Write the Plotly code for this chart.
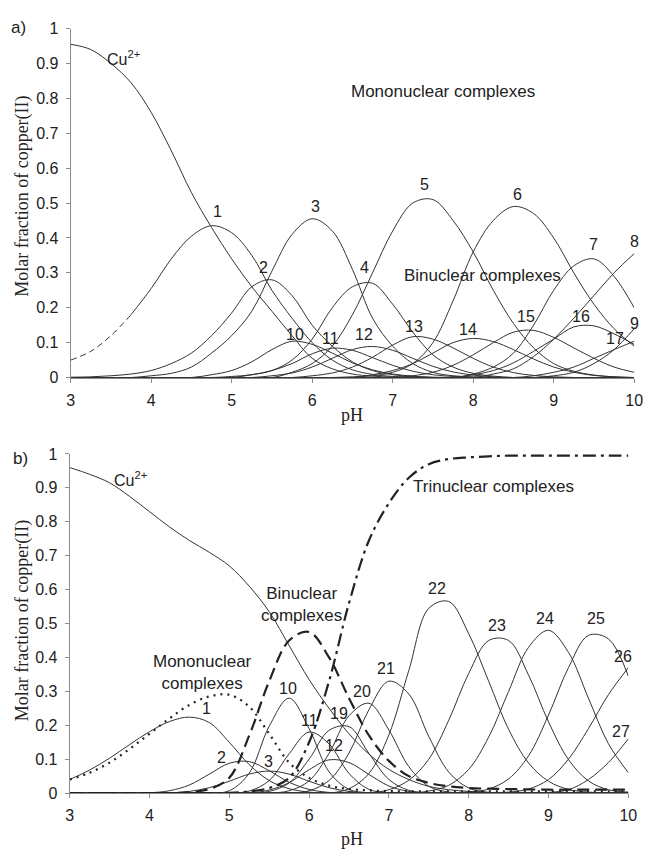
import plotly.graph_objects as go

N = 29
PH = [3.0, 3.25, 3.5, 3.75, 4.0, 4.25, 4.5, 4.75, 5.0, 5.25, 5.5, 5.75, 6.0, 6.25, 6.5,
      6.75, 7.0, 7.25, 7.5, 7.75, 8.0, 8.25, 8.5, 8.75, 9.0, 9.25, 9.5, 9.75, 10.0]


def pad(v):
    return v + [0.0] * (N - len(v))


# ---------------- panel a ----------------
A_CU = pad([0.955, 0.94, 0.9, 0.845, 0.76, 0.65, 0.53, 0.43, 0.34, 0.26, 0.19, 0.12, 0.055, 0.025, 0.01, 0.004, 0.001])
A1 = pad([0.05, 0.075, 0.12, 0.18, 0.255, 0.34, 0.405, 0.435, 0.415, 0.35, 0.25, 0.17, 0.1, 0.05, 0.022, 0.009, 0.003, 0.001])
A2 = pad([0.001, 0.002, 0.005, 0.01, 0.02, 0.04, 0.07, 0.12, 0.185, 0.26, 0.28, 0.235, 0.15, 0.09, 0.045, 0.02, 0.008, 0.003, 0.001])
A3 = pad([0, 0, 0, 0, 0.005, 0.012, 0.03, 0.07, 0.12, 0.19, 0.305, 0.41, 0.455, 0.42, 0.31, 0.17, 0.09, 0.04, 0.015, 0.005, 0.002])
A4 = pad([0] * 9 + [0.008, 0.02, 0.05, 0.11, 0.2, 0.26, 0.27, 0.21, 0.13, 0.065, 0.03, 0.012, 0.004])
A5 = pad([0] * 11 + [0.015, 0.04, 0.09, 0.18, 0.3, 0.42, 0.5, 0.51, 0.45, 0.36, 0.25, 0.155, 0.085, 0.04, 0.018, 0.007, 0.002])
A6 = pad([0] * 14 + [0.002, 0.005, 0.015, 0.04, 0.1, 0.22, 0.36, 0.45, 0.49, 0.47, 0.4, 0.3, 0.21, 0.14, 0.09])
A7 = pad([0] * 20 + [0.01, 0.03, 0.07, 0.15, 0.25, 0.32, 0.34, 0.29, 0.2])
A8 = pad([0] * 21 + [0.01, 0.025, 0.06, 0.11, 0.17, 0.235, 0.3, 0.355])
A9 = pad([0] * 24 + [0.005, 0.015, 0.04, 0.08, 0.14])
A10 = pad([0] * 7 + [0.008, 0.02, 0.045, 0.08, 0.104, 0.095, 0.07, 0.042, 0.022, 0.01, 0.004])
A11 = pad([0] * 8 + [0.003, 0.008, 0.02, 0.04, 0.068, 0.084, 0.078, 0.057, 0.035, 0.018, 0.008, 0.003])
A12 = pad([0] * 10 + [0.005, 0.013, 0.03, 0.055, 0.08, 0.089, 0.078, 0.055, 0.032, 0.016, 0.007, 0.002])
A13 = pad([0] * 12 + [0.005, 0.013, 0.03, 0.058, 0.093, 0.117, 0.11, 0.085, 0.055, 0.03, 0.014, 0.006, 0.002])
A14 = pad([0] * 15 + [0.008, 0.02, 0.04, 0.07, 0.1, 0.112, 0.103, 0.08, 0.053, 0.03, 0.015, 0.006, 0.002])
A15 = pad([0] * 17 + [0.005, 0.015, 0.035, 0.065, 0.1, 0.13, 0.135, 0.115, 0.085, 0.055, 0.03, 0.015])
A16 = pad([0] * 20 + [0.008, 0.02, 0.042, 0.075, 0.11, 0.145, 0.148, 0.125, 0.095])
A17 = pad([0] * 23 + [0.005, 0.015, 0.03, 0.055, 0.08, 0.104])

A_SPECIES = [A_CU, A2, A3, A4, A5, A6, A7, A8, A9, A10, A11, A12, A13, A14, A15, A16, A17]

A_LABELS = ["1", "2", "3", "4", "5", "6", "7", "8", "9",
            "10", "11", "12", "13", "14", "15", "16", "17"]
A_LABEL_X = [4.82, 5.4, 6.04, 6.65, 7.39, 8.55, 9.49, 10.0, 10.0,
             5.79, 6.23, 6.65, 7.26, 7.93, 8.66, 9.34, 9.76]
A_LABEL_Y = [0.475, 0.315, 0.49, 0.315, 0.553, 0.525, 0.38, 0.39, 0.155,
             0.124, 0.112, 0.124, 0.146, 0.138, 0.174, 0.174, 0.112]

# ---------------- panel b ----------------
B_CU = pad([0.96, 0.94, 0.915, 0.875, 0.83, 0.785, 0.745, 0.71, 0.67, 0.61, 0.535, 0.435, 0.335, 0.25, 0.175,
            0.115, 0.07, 0.04, 0.02, 0.01, 0.005, 0.002, 0.001])
B_MONO = [0.04, 0.06, 0.09, 0.13, 0.175, 0.22, 0.26, 0.285, 0.29, 0.255, 0.175, 0.09, 0.045, 0.022, 0.012,
          0.008, 0.006] + [0.005] * 12
B_BIN = [0] * 6 + [0.003, 0.012, 0.045, 0.17, 0.33, 0.45, 0.475, 0.4, 0.28, 0.17, 0.095, 0.05, 0.03, 0.02,
                   0.015, 0.013, 0.012, 0.011] + [0.01] * 5
B_TRI = [0] * 8 + [0.001, 0.005, 0.015, 0.045, 0.15, 0.33, 0.56, 0.745, 0.855, 0.93, 0.97, 0.985, 0.99,
                   0.993] + [0.995] * 7
B1 = pad([0.04, 0.068, 0.103, 0.143, 0.181, 0.211, 0.224, 0.208, 0.15, 0.084, 0.037, 0.013, 0.003])
B2 = pad([0] * 4 + [0.001, 0.007, 0.024, 0.056, 0.088, 0.093, 0.066, 0.032, 0.011, 0.002])
B3 = pad([0] * 6 + [0.005, 0.016, 0.035, 0.056, 0.065, 0.056, 0.035, 0.016, 0.005, 0.001])
B10 = pad([0] * 8 + [0.007, 0.059, 0.197, 0.28, 0.19, 0.063, 0.011, 0.001])
B11 = pad([0] * 9 + [0.006, 0.037, 0.116, 0.18, 0.145, 0.058, 0.011, 0.001])
B12 = pad([0] * 10 + [0.009, 0.031, 0.069, 0.098, 0.09, 0.055, 0.021, 0.005, 0.001])
B19 = pad([0] * 10 + [0.005, 0.03, 0.1, 0.185, 0.196, 0.117, 0.04, 0.008, 0.001])
B20 = pad([0] * 11 + [0.007, 0.036, 0.117, 0.228, 0.265, 0.186, 0.078, 0.02, 0.003])
B21 = pad([0] * 12 + [0.007, 0.037, 0.118, 0.246, 0.33, 0.292, 0.167, 0.062, 0.015, 0.002])
B22 = pad([0] * 14 + [0.013, 0.058, 0.172, 0.362, 0.545, 0.565, 0.47, 0.33, 0.188, 0.089, 0.035, 0.011, 0.003])
B23 = pad([0] * 16 + [0.01, 0.038, 0.1, 0.215, 0.353, 0.45, 0.45, 0.348, 0.21, 0.099, 0.036, 0.01, 0.003])
B24 = pad([0] * 18 + [0.006, 0.023, 0.07, 0.165, 0.3, 0.43, 0.48, 0.415, 0.28, 0.146, 0.06])
B25 = pad([0] * 20 + [0.003, 0.012, 0.042, 0.11, 0.23, 0.37, 0.465, 0.455, 0.345])
B26 = pad([0] * 22 + [0.003, 0.012, 0.04, 0.1, 0.19, 0.29, 0.37])
B27 = pad([0] * 24 + [0.002, 0.01, 0.04, 0.09, 0.16])

B_SPECIES = [B_CU, B1, B2, B3, B10, B11, B12, B19, B20, B21, B22, B23, B24, B25, B26, B27]

B_LABELS = ["1", "2", "3", "10", "11", "12", "19", "20", "21", "22", "23", "24", "25", "26", "27"]
B_LABEL_X = [4.72, 4.9, 5.49, 5.74, 6.0, 6.31, 6.37, 6.66, 6.96, 7.6, 8.35, 8.95, 9.6, 9.93, 9.91]
B_LABEL_Y = [0.249, 0.104, 0.092, 0.309, 0.214, 0.139, 0.234, 0.3, 0.367, 0.604, 0.494, 0.514, 0.514, 0.402, 0.182]

Y_TICKS = [0, 0.1, 0.2, 0.3, 0.4, 0.5, 0.6, 0.7, 0.8, 0.9, 1]
Y_TICKTEXT = ["0", "0.1", "0.2", "0.3", "0.4", "0.5", "0.6", "0.7", "0.8", "0.9", "1"]
X_TICKS = [3, 4, 5, 6, 7, 8, 9, 10]

# ---------------- figure ----------------
W, H = 653, 857
LINE = "#333333"
SANS = "Liberation Sans, Arial, sans-serif"
SERIF = "Liberation Serif, Times New Roman, serif"
TXT = "#222222"

fig = go.Figure()


def curve(x, y, xa, ya, width=1.0, dash="solid", color=LINE):
    fig.add_trace(go.Scatter(x=x, y=y, xaxis=xa, yaxis=ya, mode="lines",
                             line=dict(color=color, width=width, dash=dash, shape="spline", smoothing=1.0),
                             showlegend=False, hoverinfo="skip"))


# panel a
curve(PH[:4], A1[:4], "x", "y", dash="6px,4px")
curve(PH[3:], A1[3:], "x", "y")
for s in A_SPECIES:
    curve(PH, s, "x", "y")

# panel b
for s in B_SPECIES:
    curve(PH, s, "x2", "y2")
curve(PH, B_MONO, "x2", "y2", width=2.2, dash="2px,5px", color="#222222")
curve(PH, B_BIN, "x2", "y2", width=2.2, dash="12px,6px", color="#222222")
curve(PH, B_TRI, "x2", "y2", width=2.2, dash="13px,5px,3px,5px", color="#222222")

ax_common = dict(showline=True, linecolor="#8a8a8a", linewidth=1, showgrid=False, zeroline=False,
                 ticks="outside", tickcolor="#8a8a8a", ticklen=4,
                 tickfont=dict(family=SANS, size=16, color=TXT))

fig.update_layout(
    width=W, height=H, margin=dict(l=0, r=0, t=0, b=0),
    paper_bgcolor="white", plot_bgcolor="white", showlegend=False,
    xaxis=dict(domain=[68 / W, 643 / W], anchor="y", range=[3, 10], tickvals=X_TICKS,
               ticklabelstandoff=4, **ax_common),
    yaxis=dict(domain=[1 - 377 / H, 1 - 21 / H], anchor="x", range=[0, 1], tickvals=Y_TICKS,
               ticktext=Y_TICKTEXT, ticklabelstandoff=4, **ax_common),
    xaxis2=dict(domain=[67 / W, 637 / W], anchor="y2", range=[3, 10], tickvals=X_TICKS,
                ticklabelstandoff=4, **ax_common),
    yaxis2=dict(domain=[1 - 801 / H, 1 - 455 / H], anchor="x2", range=[0, 1], tickvals=Y_TICKS,
                ticktext=Y_TICKTEXT, ticklabelstandoff=4, **ax_common),
)

ann = []


def note(text, x, y, xref, yref, size=16, family=SANS, angle=0):
    ann.append(dict(text=text, x=x, y=y, xref=xref, yref=yref, showarrow=False,
                    font=dict(family=family, size=size, color=TXT), textangle=angle,
                    xanchor="center", yanchor="middle"))


for t, x, y in zip(A_LABELS, A_LABEL_X, A_LABEL_Y):
    note(t, x, y, "x", "y")
for t, x, y in zip(B_LABELS, B_LABEL_X, B_LABEL_Y):
    note(t, x, y, "x2", "y2")

note("Cu<sup>2+</sup>", 3.66, 0.915, "x", "y")
note("Mononuclear complexes", 7.63, 0.82, "x", "y", size=17)
note("Binuclear complexes", 8.12, 0.292, "x", "y", size=17)

note("Cu<sup>2+</sup>", 3.76, 0.925, "x2", "y2")
note("Binuclear<br>complexes", 5.9, 0.555, "x2", "y2", size=17)
note("Trinuclear complexes", 8.31, 0.905, "x2", "y2", size=17)
note("Mononuclear<br>complexes", 4.66, 0.356, "x2", "y2", size=17)

note("a)", 15 / W, 1 - 20 / H, "paper", "paper", size=17)
note("b)", 17 / W, 1 - 460 / H, "paper", "paper", size=17)
note("Molar fraction of copper(II)", 19 / W, 1 - 192 / H, "paper", "paper", size=18, family=SERIF, angle=-90)
note("Molar fraction of copper(II)", 19 / W, 1 - 625 / H, "paper", "paper", size=18, family=SERIF, angle=-90)
note("pH", 355 / W, 1 - 415 / H, "paper", "paper", size=18, family=SERIF)
note("pH", 355 / W, 1 - 848 / H, "paper", "paper", size=18, family=SERIF)

fig.update_layout(annotations=ann)
fig.write_html("out.html")
